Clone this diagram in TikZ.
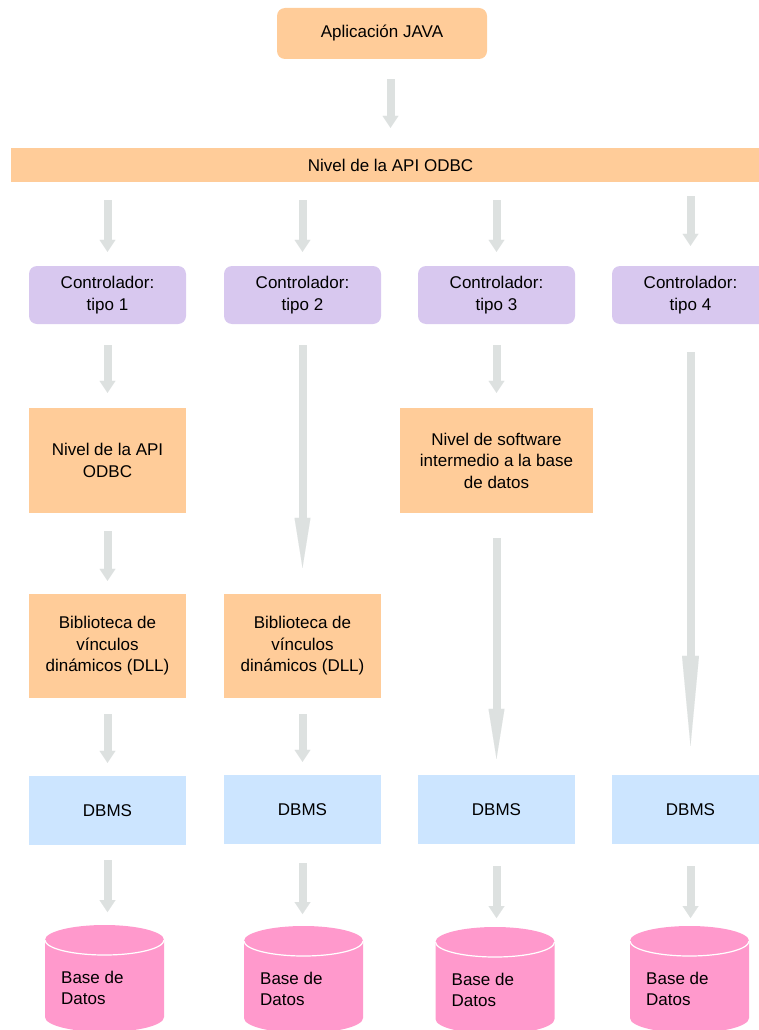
\documentclass[tikz,border=0pt]{standalone}
\usepackage{fontspec}
\setmainfont{Liberation Sans}
\usetikzlibrary{arrows.meta,calc}
\definecolor{peach}{RGB}{255,204,153}
\definecolor{lav}{RGB}{216,200,239}
\definecolor{skyb}{RGB}{204,229,255}
\definecolor{dbpink}{RGB}{255,153,204}
\definecolor{agray}{RGB}{221,225,224}
\begin{document}
\begin{tikzpicture}[x=1pt,y=1pt,
  every node/.style={font=\fontsize{17}{21.5}\selectfont, inner sep=0pt, align=center},
  pbox/.style={fill=peach, minimum width=157pt, minimum height=105pt},
  ctrl/.style={fill=lav, rounded corners=8pt, minimum width=157pt, minimum height=58pt},
  dbms/.style={fill=skyb, minimum width=157pt, minimum height=69pt},
  arr/.style={draw=agray, line width=8pt, -{Triangle[width=16pt,length=12pt,line width=0.01pt]}},
  longarr/.style={draw=agray, line width=8pt, -{Triangle[width=16pt,length=50pt,line width=0.01pt]}},
  vlongarr/.style={draw=agray, line width=8pt, -{Triangle[width=17pt,length=90pt,line width=0.01pt]}},
  dbtext/.style={anchor=north west, align=left}
]
\useasboundingbox (0,0) rectangle (759,-1030);
\clip (0,0) rectangle (759,-1030);

% top
\node[fill=peach, rounded corners=8pt, minimum width=210pt, minimum height=51pt] (app) at (382,-33.5) {Aplicación JAVA};
\node[fill=peach, minimum width=759pt, minimum height=34pt] (bar) at (390.5,-165) {Nivel de la API ODBC};

% controllers
\node[ctrl] (c1) at (107.5,-295) {Controlador:\\tipo 1};
\node[ctrl] (c2) at (302.5,-295) {Controlador:\\tipo 2};
\node[ctrl] (c3) at (496.5,-295) {Controlador:\\tipo 3};
\node[ctrl] (c4) at (690.5,-295) {Controlador:\\tipo 4};

% middle layers
\node[pbox] (m1) at (107.5,-460.5) {Nivel de la API\\ODBC};
\node[pbox, minimum width=193pt] (m3) at (496.5,-460.5) {Nivel de software\\intermedio a la base\\de datos};
\node[pbox, minimum height=104pt] (l1) at (107.5,-646) {Biblioteca de\\vínculos\\dinámicos (DLL)};
\node[pbox, minimum height=104pt] (l2) at (302.5,-646) {Biblioteca de\\vínculos\\dinámicos (DLL)};

% DBMS
\node[dbms] (d1) at (107.5,-810.5) {DBMS};
\node[dbms] (d2) at (302.5,-809.5) {DBMS};
\node[dbms] (d3) at (496.5,-809.5) {DBMS};
\node[dbms] (d4) at (690.5,-809.5) {DBMS};

% databases
\foreach \n/\cx/\ty in {1/104.5/925, 2/303.5/926, 3/495/927, 4/689.5/926} {
  \coordinate (db\n) at (\cx,-\ty);
  \fill[dbpink] (\cx-59.5,-\ty-15) -- (\cx-59.5,-\ty-92)
     arc[start angle=180,end angle=360,x radius=59.5,y radius=15]
     -- (\cx+59.5,-\ty-15)
     arc[start angle=0,end angle=180,x radius=59.5,y radius=15] -- cycle;
  \draw[white, line width=1.2pt] (\cx-59.5,-\ty-15)
     arc[start angle=180,end angle=360,x radius=59.5,y radius=15];
  \node[dbtext] (t\n) at (\cx-43.5,-\ty-45.5) {Base de\\Datos};
}

% arrows
\draw[arr, shorten <=20pt, shorten >=20pt] (app.south -| bar.north) -- (bar.north);
\draw[arr, shorten <=18pt, shorten >=14pt] (bar.south -| c1.north) -- (c1.north);
\draw[arr, shorten <=18pt, shorten >=14pt] (bar.south -| c2.north) -- (c2.north);
\draw[arr, shorten <=18pt, shorten >=14pt] (bar.south -| c3.north) -- (c3.north);
\draw[arr, shorten <=14pt, shorten >=20pt] (bar.south -| c4.north) -- (c4.north);

\draw[arr, shorten <=21pt, shorten >=15pt] (c1.south) -- (m1.north);
\draw[arr, shorten <=21pt, shorten >=15pt] (c3.south) -- (m3.north);
\draw[longarr, shorten <=21pt, shorten >=26pt] (c2.south) -- (l2.north);
\draw[vlongarr, shorten <=28pt, shorten >=29pt] (c4.south) -- (d4.north);

\draw[arr, shorten <=18pt, shorten >=13pt] (m1.south) -- (l1.north);
\draw[longarr, shorten <=25pt, shorten >=16pt] (m3.south) -- (d3.north);

\draw[arr, shorten <=16pt, shorten >=13pt] (l1.south) -- (d1.north);
\draw[arr, shorten <=16pt, shorten >=13pt] (l2.south) -- (d2.north);

\draw[arr, shorten <=15pt, shorten >=13pt] (d1.south) -- (d1.south |- db1);
\draw[arr, shorten <=19pt, shorten >=12pt] (d2.south) -- (d2.south |- db2);
\draw[arr, shorten <=22pt, shorten >=9pt] (d3.south) -- (d3.south |- db3);
\draw[arr, shorten <=22pt, shorten >=8pt] (d4.south) -- (d4.south |- db4);
\end{tikzpicture}
\end{document}
